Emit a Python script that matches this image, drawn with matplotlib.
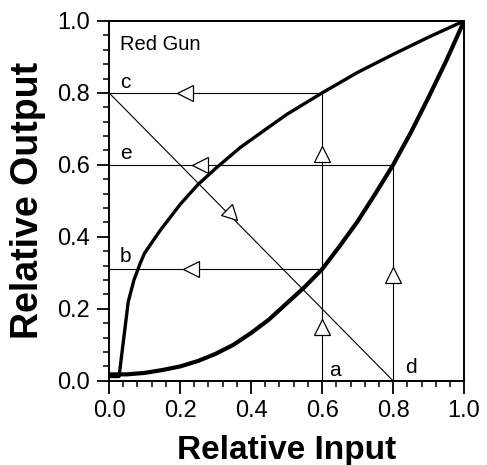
import matplotlib
matplotlib.use("Agg")
import matplotlib.pyplot as plt
from matplotlib.markers import MarkerStyle
from matplotlib.transforms import Affine2D
from matplotlib.ticker import MultipleLocator

plt.rcParams['font.family'] = ['Liberation Sans', 'DejaVu Sans']

# Data
lower_x = [0.0, 0.05, 0.1, 0.15, 0.2, 0.25, 0.3, 0.35, 0.4, 0.45, 0.5, 0.55, 0.6, 0.65, 0.7, 0.75, 0.8, 0.85, 0.9, 0.95, 1.0]
lower_y = [0.018, 0.018, 0.022, 0.03, 0.04, 0.055, 0.075, 0.1, 0.133, 0.17, 0.215, 0.26, 0.31, 0.375, 0.443, 0.52, 0.6, 0.69, 0.788, 0.89, 1.0]

upper_x = [0.0, 0.028, 0.054, 0.07, 0.087, 0.1, 0.144, 0.2, 0.25, 0.3, 0.369, 0.45, 0.5, 0.6, 0.7, 0.8, 0.9, 1.0]
upper_y = [0.012, 0.012, 0.22, 0.28, 0.325, 0.355, 0.418, 0.49, 0.545, 0.59, 0.648, 0.705, 0.74, 0.80, 0.857, 0.907, 0.955, 1.0]

# guide lines: (x list, y list)
guide_c = ([0.0, 0.6], [0.8, 0.8])
guide_a = ([0.6, 0.6], [0.0, 0.8])
guide_diag = ([0.0, 0.8], [0.8, 0.0])
guide_e = ([0.0, 0.8], [0.6, 0.6])
guide_d = ([0.8, 0.8], [0.0, 0.6])
guide_b = ([0.0, 0.6], [0.31, 0.31])

# arrow heads: (x, y, direction angle in degrees; 0 = pointing right)
arrows = [
    (0.215, 0.8, 180),
    (0.255, 0.6, 180),
    (0.23, 0.31, 180),
    (0.6, 0.15, 90),
    (0.6, 0.63, 90),
    (0.8, 0.295, 90),
    (0.345, 0.46, -45),
]

point_labels = [("c", 0.03, 0.814), ("e", 0.03, 0.615), ("b", 0.03, 0.33),
                ("a", 0.62, 0.014), ("d", 0.834, 0.022)]

x_ticks = [0.0, 0.2, 0.4, 0.6, 0.8, 1.0]
y_ticks = [0.0, 0.2, 0.4, 0.6, 0.8, 1.0]

fig = plt.figure(figsize=(4.87, 4.65), dpi=100)
ax = fig.add_axes([0.224, 0.181, 0.729, 0.774])

for gx, gy in [guide_c, guide_a, guide_diag, guide_e, guide_d, guide_b]:
    ax.plot(gx, gy, color='black', lw=0.8, zorder=2)

ax.plot(upper_x, upper_y, color='black', lw=2.4, zorder=3, solid_joinstyle='round')
ax.plot(lower_x, lower_y, color='black', lw=3.0, zorder=3, solid_joinstyle='round')

for ax_x, ax_y, ang in arrows:
    m = MarkerStyle('>', transform=Affine2D().rotate_deg(ang))
    ax.plot([ax_x], [ax_y], marker=m, markersize=11, markerfacecolor='white',
            markeredgecolor='black', markeredgewidth=0.9, linestyle='none', zorder=4)

for txt, tx, ty in point_labels:
    ax.text(tx, ty, txt, fontsize=15, va='baseline', ha='left', zorder=5)

ax.text(0.03, 0.92, "Red Gun", fontsize=14.5, va='baseline', ha='left')

ax.set_xlim(0, 1)
ax.set_ylim(0, 1)
ax.set_xticks(x_ticks)
ax.set_yticks(y_ticks)
ax.set_xticklabels([f"{v:.1f}" for v in x_ticks])
ax.set_yticklabels([f"{v:.1f}" for v in y_ticks])
ax.xaxis.set_minor_locator(MultipleLocator(0.04))
ax.yaxis.set_minor_locator(MultipleLocator(0.04))
ax.tick_params(which='major', direction='out', length=9, width=1.3, labelsize=17, pad=5)
ax.tick_params(which='minor', direction='out', length=4.5, width=1.1)
for s in ax.spines.values():
    s.set_linewidth(1.4)

ax.set_xlabel("Relative Input", fontsize=24, fontweight='bold', labelpad=9)
ax.set_ylabel("Relative Output", fontsize=27, fontweight='bold', labelpad=8)

fig.savefig("out.png", dpi=100)
